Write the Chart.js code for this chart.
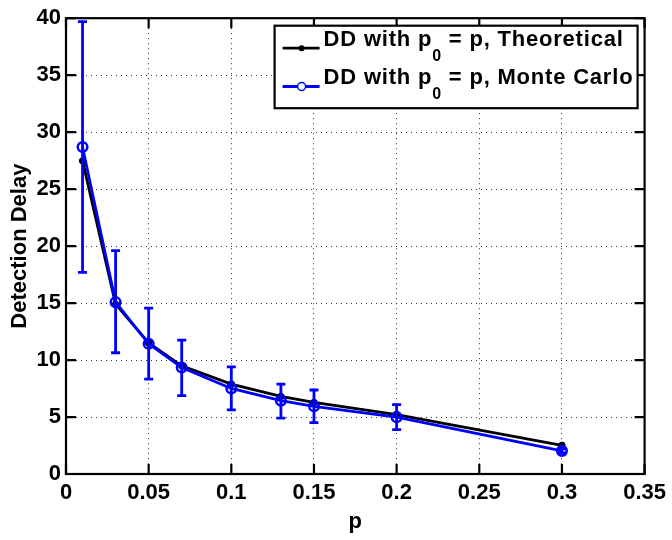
<!DOCTYPE html>
<html>
<head>
<meta charset="utf-8">
<script src="https://cdn.jsdelivr.net/npm/chart.js@4.4.1/dist/chart.umd.min.js"></script>
<style>
  body { margin: 0; background: #fff; }
  #wrap { width: 672px; height: 540px; }
</style>
</head>
<body>
<div id="wrap"><canvas id="chart"></canvas></div>
<script>
const pValues = [0.01, 0.03, 0.05, 0.07, 0.1, 0.13, 0.15, 0.2, 0.3];
const theoretical = [27.48, 14.9, 11.5, 9.49, 7.89, 6.81, 6.29, 5.22, 2.52];
const monteCarlo = [28.69, 15.08, 11.43, 9.34, 7.51, 6.44, 5.94, 4.99, 2.03];
const mcLow = [17.69, 10.64, 8.33, 6.88, 5.63, 4.9, 4.5, 3.89, 1.85];
const mcHigh = [39.7, 19.6, 14.56, 11.75, 9.4, 7.89, 7.37, 6.09, 2.2];
const xTicks = [0, 0.05, 0.1, 0.15, 0.2, 0.25, 0.3, 0.35];
const xTickLabels = ['0', '0.05', '0.1', '0.15', '0.2', '0.25', '0.3', '0.35'];
const yTicks = [0, 5, 10, 15, 20, 25, 30, 35, 40];
const yTickLabels = ['0', '5', '10', '15', '20', '25', '30', '35', '40'];
const legendNames = ['Theoretical', 'Monte Carlo'];

const FONT = '"Liberation Sans", Arial, Helvetica, sans-serif';
const BLUE = '#0000ff';

// blue error bars of the monte carlo runs
const errorBars = {
    id: 'errorBars',
    afterDatasetsDraw(chart) {
        const ctx = chart.ctx;
        const xs = chart.scales.x;
        const ys = chart.scales.y;
        ctx.save();
        ctx.strokeStyle = BLUE;
        ctx.lineWidth = 2.8;
        for (let i = 0; i < pValues.length; i++) {
            const x = xs.getPixelForValue(pValues[i]);
            const lo = ys.getPixelForValue(mcLow[i]);
            const hi = ys.getPixelForValue(mcHigh[i]);
            ctx.beginPath();
            ctx.moveTo(x, lo);
            ctx.lineTo(x, hi);
            ctx.moveTo(x - 4.5, lo);
            ctx.lineTo(x + 4.5, lo);
            ctx.moveTo(x - 4.5, hi);
            ctx.lineTo(x + 4.5, hi);
            ctx.stroke();
        }
        ctx.restore();
    }
};

// matlab style box with inward ticks on every side
const axesBox = {
    id: 'axesBox',
    afterDatasetsDraw(chart) {
        const {ctx, chartArea: a, scales: {x, y}} = chart;
        ctx.save();
        ctx.strokeStyle = '#000';
        ctx.lineWidth = 2.2;
        ctx.beginPath();
        x.ticks.forEach(t => {
            const px = x.getPixelForValue(t.value);
            ctx.moveTo(px, a.bottom);
            ctx.lineTo(px, a.bottom - 10);
            ctx.moveTo(px, a.top);
            ctx.lineTo(px, a.top + 10);
        });
        y.ticks.forEach(t => {
            const py = y.getPixelForValue(t.value);
            ctx.moveTo(a.left, py);
            ctx.lineTo(a.left + 10, py);
            ctx.moveTo(a.right, py);
            ctx.lineTo(a.right - 10, py);
        });
        ctx.stroke();
        ctx.strokeRect(a.left, a.top, a.right - a.left, a.bottom - a.top);
        ctx.restore();
    }
};

// legend drawn by hand because of the subscript
const legendBox = {
    id: 'legendBox',
    afterDraw(chart) {
        const {ctx, chartArea: a} = chart;
        const w = 363, h = 82.5;
        const left = a.right - 7 - w;
        const top = a.top + 7.5;
        ctx.save();
        ctx.fillStyle = '#fff';
        ctx.fillRect(left, top, w, h);
        ctx.strokeStyle = '#000';
        ctx.lineWidth = 2.2;
        ctx.strokeRect(left, top, w, h);

        const rows = [
            {color: '#000', hollow: false, r: 3},
            {color: BLUE, hollow: true, r: 4}
        ];
        rows.forEach((row, i) => {
            const base = top + 20 + i * 38.3;
            const ly = base + 2.5;
            ctx.strokeStyle = row.color;
            ctx.lineWidth = 2.8;
            ctx.beginPath();
            ctx.moveTo(left + 8, ly);
            ctx.lineTo(left + 45, ly);
            ctx.stroke();
            ctx.beginPath();
            ctx.arc(left + 27, ly, row.r, 0, 2 * Math.PI);
            if (row.hollow) {
                ctx.fillStyle = '#fff';
                ctx.fill();
                ctx.lineWidth = 1.5;
                ctx.stroke();
            } else {
                ctx.fillStyle = row.color;
                ctx.fill();
            }

            ctx.fillStyle = '#000';
            ctx.textBaseline = 'alphabetic';
            ctx.textAlign = 'left';
            ctx.letterSpacing = '0.8px';
            let tx = left + 49;
            ctx.font = 'bold 22px ' + FONT;
            ctx.fillText('DD with p', tx, base);
            tx += ctx.measureText('DD with p').width;
            ctx.font = 'bold 16px ' + FONT;
            ctx.fillText('0', tx, base + 15);
            tx += ctx.measureText('0').width;
            ctx.font = 'bold 22px ' + FONT;
            ctx.fillText(' = p, ' + legendNames[i], tx, base);
        });
        ctx.restore();
    }
};

const ctx = document.getElementById('chart').getContext('2d');
const chart = new Chart(ctx, {
    type: 'line',
    data: {
        datasets: [
            {
                label: legendNames[0],
                data: pValues.map((p, i) => ({x: p, y: theoretical[i]})),
                borderColor: '#000',
                backgroundColor: '#000',
                borderWidth: 2.8,
                pointRadius: 3.2,
                pointBorderWidth: 1,
                tension: 0,
                order: 1
            },
            {
                label: legendNames[1],
                data: pValues.map((p, i) => ({x: p, y: monteCarlo[i]})),
                borderColor: BLUE,
                backgroundColor: 'rgba(0,0,0,0)',
                pointBackgroundColor: 'rgba(0,0,0,0)',
                borderWidth: 2.8,
                pointRadius: 4.8,
                pointBorderWidth: 2.5,
                tension: 0,
                order: 0
            }
        ]
    },
    options: {
        responsive: true,
        maintainAspectRatio: false,
        animation: false,
        layout: {padding: {top: 14, right: 23, bottom: 0, left: 0}},
        plugins: {
            legend: {display: false},
            tooltip: {enabled: false}
        },
        scales: {
            x: {
                type: 'linear',
                min: 0,
                max: 0.35,
                afterBuildTicks: s => { s.ticks = xTicks.map(v => ({value: v})); },
                afterFit: s => { s.height = 66; },
                ticks: {
                    callback: (v, i) => xTickLabels[i],
                    color: '#000',
                    font: {family: FONT, size: 22, weight: 'bold'},
                    padding: 6,
                    maxRotation: 0,
                    autoSkip: false
                },
                grid: {color: 'rgba(0,0,0,0.8)', lineWidth: 1, drawTicks: false},
                border: {display: false, dash: [1, 4]},
                title: {
                    display: true,
                    text: 'p',
                    color: '#000',
                    font: {family: FONT, size: 22, weight: 'bold'},
                    padding: {top: 0, bottom: 4.5}
                }
            },
            y: {
                min: 0,
                max: 40,
                afterBuildTicks: s => { s.ticks = yTicks.map(v => ({value: v})); },
                afterFit: s => { s.width = 66; },
                ticks: {
                    callback: (v, i) => yTickLabels[i],
                    color: '#000',
                    font: {family: FONT, size: 22, weight: 'bold'},
                    padding: 5
                },
                grid: {color: 'rgba(0,0,0,0.8)', lineWidth: 1, drawTicks: false},
                border: {display: false, dash: [1, 4]},
                title: {
                    display: true,
                    text: 'Detection Delay',
                    color: '#000',
                    font: {family: FONT, size: 22, weight: 'bold'},
                    padding: {top: 7, bottom: 0}
                }
            }
        }
    },
    plugins: [errorBars, axesBox, legendBox]
});
</script>
</body>
</html>
